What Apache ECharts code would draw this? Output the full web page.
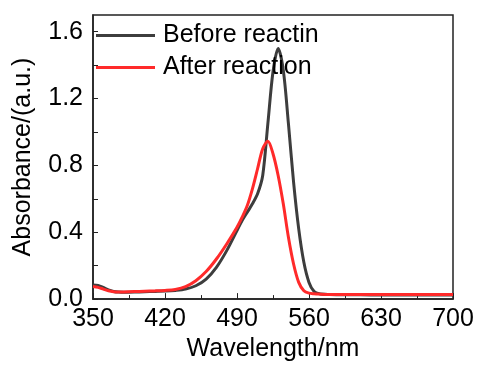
<!DOCTYPE html>
<html>
<head>
<meta charset="utf-8">
<script src="https://cdn.jsdelivr.net/npm/echarts@6/dist/echarts.min.js"></script>
<style>
  html, body { margin: 0; padding: 0; background: #fff; }
  #chart { width: 479px; height: 367px; }
</style>
</head>
<body>
<div id="chart"></div>
<script>
// wavelength (nm) sampled along the spectra
const wavelengths = [350, 355, 360, 365, 370, 375, 380, 390, 400, 410, 420, 430, 440, 450, 460, 470, 480, 490, 495, 500, 505, 510, 515, 520, 525, 530, 535, 540, 545, 550, 555, 560, 565, 570, 580, 600, 620, 640, 660, 680, 700];

const beforeAbs = [0.085, 0.082, 0.07, 0.055, 0.046, 0.042, 0.041, 0.042, 0.044, 0.046, 0.048, 0.052, 0.06, 0.08, 0.12, 0.19, 0.29, 0.41, 0.47, 0.52, 0.57, 0.63, 0.74, 1.05, 1.36, 1.50, 1.37, 1.05, 0.70, 0.42, 0.22, 0.10, 0.045, 0.032, 0.028, 0.026, 0.025, 0.025, 0.025, 0.025, 0.025];

const afterAbs = [0.075, 0.07, 0.06, 0.05, 0.044, 0.042, 0.043, 0.045, 0.047, 0.049, 0.052, 0.058, 0.075, 0.11, 0.165, 0.24, 0.33, 0.43, 0.49, 0.56, 0.66, 0.78, 0.9, 0.945, 0.87, 0.74, 0.57, 0.37, 0.21, 0.10, 0.05, 0.036, 0.032, 0.03, 0.028, 0.028, 0.028, 0.028, 0.028, 0.028, 0.028];

const seriesNames = ['Before reactin', 'After reaction'];

const yLabels = [0, 0.4, 0.8, 1.2, 1.6];
const yTicks = [0, 0.2, 0.4, 0.6, 0.8, 1.0, 1.2, 1.4, 1.6];

const FONT = 'Liberation Sans';

const chart = echarts.init(document.getElementById('chart'));

const toPairs = (vals) => wavelengths.map((w, i) => [w, vals[i]]);

const option = {
    animation: false,
    textStyle: { fontFamily: FONT },
    grid: {
        left: 93, right: 26, top: 15, bottom: 66,
        show: true,
        borderColor: '#222',
        borderWidth: 1.5
    },
    legend: {
        orient: 'vertical',
        left: 96,
        top: 23,
        padding: 0,
        icon: 'rect',
        itemWidth: 59,
        itemHeight: 3,
        itemGap: 7,
        textStyle: { fontSize: 25, color: '#000', fontFamily: FONT, padding: [0, 0, 0, 3] },
        data: seriesNames
    },
    xAxis: {
        type: 'value',
        min: 350,
        max: 700,
        interval: 70,
        name: 'Wavelength/nm',
        nameLocation: 'middle',
        nameGap: 36,
        nameTextStyle: { fontSize: 25, color: '#000', fontFamily: FONT },
        axisLine: { lineStyle: { color: '#222', width: 1.5 } },
        axisTick: { inside: true, length: 6, lineStyle: { color: '#222' } },
        minorTick: { show: true, splitNumber: 2, length: 4, lineStyle: { color: '#222' } },
        axisLabel: { fontSize: 25, color: '#000', margin: 8, fontFamily: FONT },
        splitLine: { show: false }
    },
    yAxis: {
        type: 'value',
        min: 0,
        max: 1.7,
        name: 'Absorbance/(a.u.)',
        nameLocation: 'middle',
        nameGap: 57,
        nameTextStyle: { fontSize: 25, color: '#000', fontFamily: FONT },
        axisLine: { show: true, lineStyle: { color: '#222', width: 1.5 } },
        axisTick: { inside: true, length: 5, customValues: yTicks, lineStyle: { color: '#222' } },
        axisLabel: {
            fontSize: 25, color: '#000', margin: 10, fontFamily: FONT,
            customValues: yLabels,
            formatter: (v) => v.toFixed(1)
        },
        splitLine: { show: false }
    },
    series: [
        {
            name: seriesNames[0],
            type: 'line',
            smooth: 0.3,
            symbol: 'none',
            data: toPairs(beforeAbs),
            lineStyle: { color: '#3d3d3d', width: 3 },
            itemStyle: { color: '#3d3d3d' }
        },
        {
            name: seriesNames[1],
            type: 'line',
            smooth: 0.3,
            symbol: 'none',
            data: toPairs(afterAbs),
            lineStyle: { color: '#ff2a2a', width: 3 },
            itemStyle: { color: '#ff2a2a' }
        }
    ]
};

chart.setOption(option);
</script>
</body>
</html>
